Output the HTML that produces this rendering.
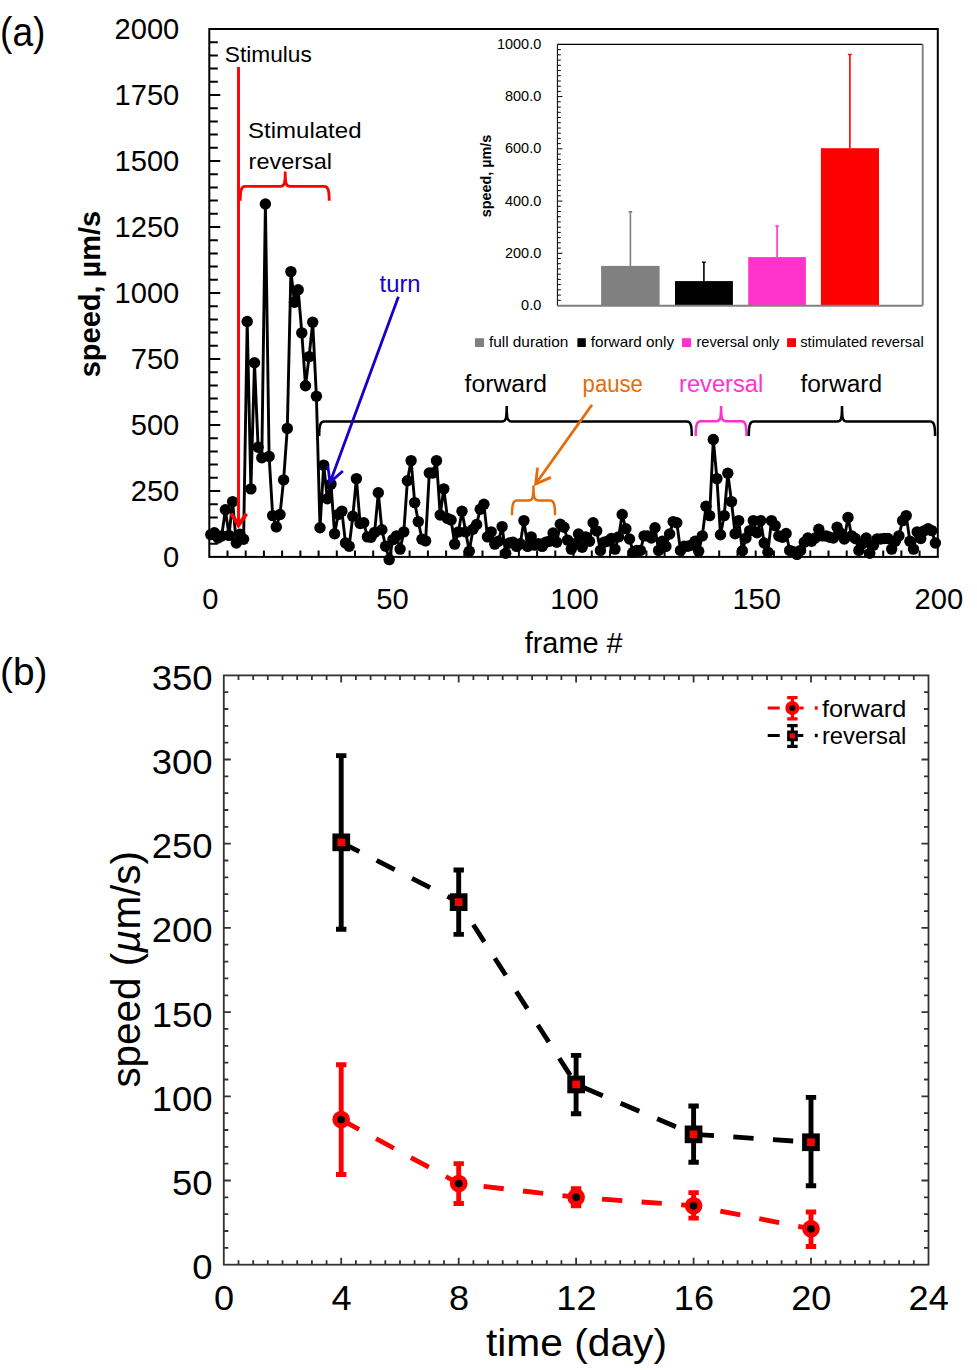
<!DOCTYPE html>
<html><head><meta charset="utf-8"><style>
html,body{margin:0;padding:0;background:#fff;width:977px;height:1370px;overflow:hidden;}
svg text{font-family:"Liberation Sans",sans-serif;}
</style></head><body>
<svg width="977" height="1370" viewBox="0 0 977 1370" style="position:absolute;left:0;top:0">
<rect width="977" height="1370" fill="#fff"/>
<g fill="none" stroke="#000" stroke-width="2">
<rect x="209.3" y="29" width="728.5" height="527.9"/>
<path d="M209.3 543.8h8.5M209.3 530.6h8.5M209.3 517.4h8.5M209.3 504.2h8.5M209.3 491h11M209.3 477.8h8.5M209.3 464.6h8.5M209.3 451.4h8.5M209.3 438.2h8.5M209.3 425h11M209.3 411.8h8.5M209.3 398.6h8.5M209.3 385.4h8.5M209.3 372.2h8.5M209.3 359h11M209.3 345.8h8.5M209.3 332.6h8.5M209.3 319.4h8.5M209.3 306.2h8.5M209.3 293h11M209.3 279.8h8.5M209.3 266.6h8.5M209.3 253.4h8.5M209.3 240.2h8.5M209.3 227h11M209.3 213.8h8.5M209.3 200.6h8.5M209.3 187.4h8.5M209.3 174.2h8.5M209.3 161h11M209.3 147.8h8.5M209.3 134.6h8.5M209.3 121.4h8.5M209.3 108.2h8.5M209.3 95h11M209.3 81.8h8.5M209.3 68.6h8.5M209.3 55.4h8.5M209.3 42.2h8.5M227.5 556.9v-6.5M245.7 556.9v-6.5M263.9 556.9v-6.5M282.1 556.9v-6.5M300.4 556.9v-6.5M318.6 556.9v-6.5M336.8 556.9v-6.5M355 556.9v-6.5M373.2 556.9v-6.5M391.4 556.9v-6.5M409.6 556.9v-6.5M427.9 556.9v-6.5M446.1 556.9v-6.5M464.3 556.9v-6.5M482.5 556.9v-6.5M500.7 556.9v-6.5M518.9 556.9v-6.5M537.1 556.9v-6.5M555.3 556.9v-6.5M573.5 556.9v-6.5M591.8 556.9v-6.5M610 556.9v-6.5M628.2 556.9v-6.5M646.4 556.9v-6.5M664.6 556.9v-6.5M682.8 556.9v-6.5M701 556.9v-6.5M719.2 556.9v-6.5M737.5 556.9v-6.5M755.7 556.9v-6.5M773.9 556.9v-6.5M792.1 556.9v-6.5M810.3 556.9v-6.5M828.5 556.9v-6.5M846.7 556.9v-6.5M865 556.9v-6.5M883.2 556.9v-6.5M901.4 556.9v-6.5M919.6 556.9v-6.5"/>
</g>
<text x="179.3" y="566.6" font-size="29.5" fill="#000" text-anchor="end" textLength="16.2" lengthAdjust="spacingAndGlyphs">0</text>
<text x="179.3" y="500.6" font-size="29.5" fill="#000" text-anchor="end" textLength="48.6" lengthAdjust="spacingAndGlyphs">250</text>
<text x="179.3" y="434.6" font-size="29.5" fill="#000" text-anchor="end" textLength="48.6" lengthAdjust="spacingAndGlyphs">500</text>
<text x="179.3" y="368.6" font-size="29.5" fill="#000" text-anchor="end" textLength="48.6" lengthAdjust="spacingAndGlyphs">750</text>
<text x="179.3" y="302.6" font-size="29.5" fill="#000" text-anchor="end" textLength="64.8" lengthAdjust="spacingAndGlyphs">1000</text>
<text x="179.3" y="236.6" font-size="29.5" fill="#000" text-anchor="end" textLength="64.8" lengthAdjust="spacingAndGlyphs">1250</text>
<text x="179.3" y="170.6" font-size="29.5" fill="#000" text-anchor="end" textLength="64.8" lengthAdjust="spacingAndGlyphs">1500</text>
<text x="179.3" y="104.6" font-size="29.5" fill="#000" text-anchor="end" textLength="64.8" lengthAdjust="spacingAndGlyphs">1750</text>
<text x="179.3" y="38.6" font-size="29.5" fill="#000" text-anchor="end" textLength="64.8" lengthAdjust="spacingAndGlyphs">2000</text>
<text x="210.3" y="609" font-size="29.5" fill="#000" text-anchor="middle" textLength="16.2" lengthAdjust="spacingAndGlyphs">0</text>
<text x="392.4" y="609" font-size="29.5" fill="#000" text-anchor="middle" textLength="32.4" lengthAdjust="spacingAndGlyphs">50</text>
<text x="574.5" y="609" font-size="29.5" fill="#000" text-anchor="middle" textLength="48.6" lengthAdjust="spacingAndGlyphs">100</text>
<text x="756.7" y="609" font-size="29.5" fill="#000" text-anchor="middle" textLength="48.6" lengthAdjust="spacingAndGlyphs">150</text>
<text x="938.8" y="609" font-size="29.5" fill="#000" text-anchor="middle" textLength="48.6" lengthAdjust="spacingAndGlyphs">200</text>
<text x="573.7" y="652.9" font-size="29" fill="#000" text-anchor="middle" textLength="98" lengthAdjust="spacingAndGlyphs">frame #</text>
<text x="100.5" y="377.3" font-size="29" fill="#000" font-weight="bold" textLength="166.5" lengthAdjust="spacingAndGlyphs" transform="rotate(-90 100.5 377.3)">speed, µm/s</text>
<text x="0" y="46" font-size="41.5" fill="#000" textLength="45.5" lengthAdjust="spacingAndGlyphs">(a)</text>
<polyline points="210.8,534.6 214.4,532.7 218.1,538 221.7,535.9 225.4,509.7 229,535.4 232.6,501.6 236.3,543 239.9,534.3 243.6,539.3 247.2,321.5 250.9,488.9 254.5,362.7 258.1,447.2 261.8,457.7 265.4,204 269.1,456.4 272.7,515.6 276.3,526.9 280,514.5 283.6,479.9 287.3,428.4 290.9,271.6 294.5,302.2 298.2,289.8 301.8,332.9 305.5,385.7 309.1,356.6 312.7,322.3 316.4,396.2 320,527.7 323.7,465.1 327.3,498.7 331,484.1 334.6,533.8 338.2,514.5 341.9,511.3 345.5,543 349.2,546.2 352.8,516.3 356.4,478.6 360.1,523.5 363.7,522.7 367.4,536.9 371,537.2 374.6,532.4 378.3,492.8 381.9,529.8 385.6,546.2 389.2,559.6 392.9,539.6 396.5,535.9 400.1,549.1 403.8,531.9 407.4,480.7 411.1,460.6 414.7,502.6 418.3,521.6 422,539.3 425.6,540.9 429.3,473 432.9,473 436.5,460.6 440.2,515 443.8,488.9 447.5,518.5 451.1,520 454.7,544.1 458.4,531.9 462,511.3 465.7,531.9 469.3,551.2 473,529.3 476.6,524.5 480.2,509.2 483.9,504.2 487.5,536.9 491.2,531.9 494.8,544.1 498.4,541.2 502.1,526.6 505.7,553.3 509.4,543 513,542.2 516.6,546.4 520.3,543.8 523.9,520.6 527.6,546.4 531.2,536.9 534.8,545.1 538.5,543.8 542.1,546.4 545.8,542.2 549.4,541.2 553.1,533 556.7,542.2 560.3,524.3 564,527.2 567.6,540.1 571.3,549.1 574.9,543.8 578.5,534 582.2,547.2 585.8,536.9 589.5,541.2 593.1,522.7 596.7,530.9 600.4,550.4 604,542.2 607.7,541.2 611.3,538.5 615,549.1 618.6,536.9 622.2,514.5 625.9,528.8 629.5,539 633.2,552.2 636.8,550.4 640.4,550.4 644.1,535.9 647.7,535.9 651.4,538 655,527.7 658.6,550.4 662.3,541.2 665.9,546.4 669.6,534 673.2,521.6 676.8,522.7 680.5,550.4 684.1,546.2 687.8,546.2 691.4,545.1 695.1,541.2 698.7,551.2 702.3,535.9 706,506.3 709.6,515.6 713.3,439.5 716.9,478.6 720.5,534.8 724.2,515.6 727.8,473.3 731.5,501.6 735.1,533.8 738.7,520.6 742.4,550.7 746,538 749.7,530.6 753.3,520.6 757,532.7 760.6,520.6 764.2,543 767.9,552.2 771.5,520.6 775.2,525.6 778.8,535.9 782.4,537.2 786.1,533.5 789.7,550.4 793.4,551.7 797,554.4 800.6,550.4 804.3,542.2 807.9,538 811.6,541.2 815.2,538 818.8,529.3 822.5,535.9 826.1,535.9 829.8,537.2 833.4,538 837.1,527.2 840.7,533.2 844.3,539 848,517.4 851.6,535.9 855.3,538.5 858.9,550.4 862.5,543.8 866.2,538 869.8,553.3 873.5,545.1 877.1,539 880.7,539 884.4,538.5 888,538.5 891.7,549.1 895.3,541.2 898.9,535.9 902.6,520.6 906.2,515.6 909.9,541.2 913.5,549.1 917.2,531.9 920.8,538.5 924.4,530.6 928.1,528.8 931.7,530.6 935.4,543" fill="none" stroke="#000" stroke-width="2.9" stroke-linejoin="round"/>
<g fill="#000">
<circle cx="210.8" cy="534.6" r="5.7"/>
<circle cx="214.4" cy="532.7" r="5.7"/>
<circle cx="218.1" cy="538" r="5.7"/>
<circle cx="221.7" cy="535.9" r="5.7"/>
<circle cx="225.4" cy="509.7" r="5.7"/>
<circle cx="229" cy="535.4" r="5.7"/>
<circle cx="232.6" cy="501.6" r="5.7"/>
<circle cx="236.3" cy="543" r="5.7"/>
<circle cx="239.9" cy="534.3" r="5.7"/>
<circle cx="243.6" cy="539.3" r="5.7"/>
<circle cx="247.2" cy="321.5" r="5.7"/>
<circle cx="250.9" cy="488.9" r="5.7"/>
<circle cx="254.5" cy="362.7" r="5.7"/>
<circle cx="258.1" cy="447.2" r="5.7"/>
<circle cx="261.8" cy="457.7" r="5.7"/>
<circle cx="265.4" cy="204" r="5.7"/>
<circle cx="269.1" cy="456.4" r="5.7"/>
<circle cx="272.7" cy="515.6" r="5.7"/>
<circle cx="276.3" cy="526.9" r="5.7"/>
<circle cx="280" cy="514.5" r="5.7"/>
<circle cx="283.6" cy="479.9" r="5.7"/>
<circle cx="287.3" cy="428.4" r="5.7"/>
<circle cx="290.9" cy="271.6" r="5.7"/>
<circle cx="294.5" cy="302.2" r="5.7"/>
<circle cx="298.2" cy="289.8" r="5.7"/>
<circle cx="301.8" cy="332.9" r="5.7"/>
<circle cx="305.5" cy="385.7" r="5.7"/>
<circle cx="309.1" cy="356.6" r="5.7"/>
<circle cx="312.7" cy="322.3" r="5.7"/>
<circle cx="316.4" cy="396.2" r="5.7"/>
<circle cx="320" cy="527.7" r="5.7"/>
<circle cx="323.7" cy="465.1" r="5.7"/>
<circle cx="327.3" cy="498.7" r="5.7"/>
<circle cx="331" cy="484.1" r="5.7"/>
<circle cx="334.6" cy="533.8" r="5.7"/>
<circle cx="338.2" cy="514.5" r="5.7"/>
<circle cx="341.9" cy="511.3" r="5.7"/>
<circle cx="345.5" cy="543" r="5.7"/>
<circle cx="349.2" cy="546.2" r="5.7"/>
<circle cx="352.8" cy="516.3" r="5.7"/>
<circle cx="356.4" cy="478.6" r="5.7"/>
<circle cx="360.1" cy="523.5" r="5.7"/>
<circle cx="363.7" cy="522.7" r="5.7"/>
<circle cx="367.4" cy="536.9" r="5.7"/>
<circle cx="371" cy="537.2" r="5.7"/>
<circle cx="374.6" cy="532.4" r="5.7"/>
<circle cx="378.3" cy="492.8" r="5.7"/>
<circle cx="381.9" cy="529.8" r="5.7"/>
<circle cx="385.6" cy="546.2" r="5.7"/>
<circle cx="389.2" cy="559.6" r="5.7"/>
<circle cx="392.9" cy="539.6" r="5.7"/>
<circle cx="396.5" cy="535.9" r="5.7"/>
<circle cx="400.1" cy="549.1" r="5.7"/>
<circle cx="403.8" cy="531.9" r="5.7"/>
<circle cx="407.4" cy="480.7" r="5.7"/>
<circle cx="411.1" cy="460.6" r="5.7"/>
<circle cx="414.7" cy="502.6" r="5.7"/>
<circle cx="418.3" cy="521.6" r="5.7"/>
<circle cx="422" cy="539.3" r="5.7"/>
<circle cx="425.6" cy="540.9" r="5.7"/>
<circle cx="429.3" cy="473" r="5.7"/>
<circle cx="432.9" cy="473" r="5.7"/>
<circle cx="436.5" cy="460.6" r="5.7"/>
<circle cx="440.2" cy="515" r="5.7"/>
<circle cx="443.8" cy="488.9" r="5.7"/>
<circle cx="447.5" cy="518.5" r="5.7"/>
<circle cx="451.1" cy="520" r="5.7"/>
<circle cx="454.7" cy="544.1" r="5.7"/>
<circle cx="458.4" cy="531.9" r="5.7"/>
<circle cx="462" cy="511.3" r="5.7"/>
<circle cx="465.7" cy="531.9" r="5.7"/>
<circle cx="469.3" cy="551.2" r="5.7"/>
<circle cx="473" cy="529.3" r="5.7"/>
<circle cx="476.6" cy="524.5" r="5.7"/>
<circle cx="480.2" cy="509.2" r="5.7"/>
<circle cx="483.9" cy="504.2" r="5.7"/>
<circle cx="487.5" cy="536.9" r="5.7"/>
<circle cx="491.2" cy="531.9" r="5.7"/>
<circle cx="494.8" cy="544.1" r="5.7"/>
<circle cx="498.4" cy="541.2" r="5.7"/>
<circle cx="502.1" cy="526.6" r="5.7"/>
<circle cx="505.7" cy="553.3" r="5.7"/>
<circle cx="509.4" cy="543" r="5.7"/>
<circle cx="513" cy="542.2" r="5.7"/>
<circle cx="516.6" cy="546.4" r="5.7"/>
<circle cx="520.3" cy="543.8" r="5.7"/>
<circle cx="523.9" cy="520.6" r="5.7"/>
<circle cx="527.6" cy="546.4" r="5.7"/>
<circle cx="531.2" cy="536.9" r="5.7"/>
<circle cx="534.8" cy="545.1" r="5.7"/>
<circle cx="538.5" cy="543.8" r="5.7"/>
<circle cx="542.1" cy="546.4" r="5.7"/>
<circle cx="545.8" cy="542.2" r="5.7"/>
<circle cx="549.4" cy="541.2" r="5.7"/>
<circle cx="553.1" cy="533" r="5.7"/>
<circle cx="556.7" cy="542.2" r="5.7"/>
<circle cx="560.3" cy="524.3" r="5.7"/>
<circle cx="564" cy="527.2" r="5.7"/>
<circle cx="567.6" cy="540.1" r="5.7"/>
<circle cx="571.3" cy="549.1" r="5.7"/>
<circle cx="574.9" cy="543.8" r="5.7"/>
<circle cx="578.5" cy="534" r="5.7"/>
<circle cx="582.2" cy="547.2" r="5.7"/>
<circle cx="585.8" cy="536.9" r="5.7"/>
<circle cx="589.5" cy="541.2" r="5.7"/>
<circle cx="593.1" cy="522.7" r="5.7"/>
<circle cx="596.7" cy="530.9" r="5.7"/>
<circle cx="600.4" cy="550.4" r="5.7"/>
<circle cx="604" cy="542.2" r="5.7"/>
<circle cx="607.7" cy="541.2" r="5.7"/>
<circle cx="611.3" cy="538.5" r="5.7"/>
<circle cx="615" cy="549.1" r="5.7"/>
<circle cx="618.6" cy="536.9" r="5.7"/>
<circle cx="622.2" cy="514.5" r="5.7"/>
<circle cx="625.9" cy="528.8" r="5.7"/>
<circle cx="629.5" cy="539" r="5.7"/>
<circle cx="633.2" cy="552.2" r="5.7"/>
<circle cx="636.8" cy="550.4" r="5.7"/>
<circle cx="640.4" cy="550.4" r="5.7"/>
<circle cx="644.1" cy="535.9" r="5.7"/>
<circle cx="647.7" cy="535.9" r="5.7"/>
<circle cx="651.4" cy="538" r="5.7"/>
<circle cx="655" cy="527.7" r="5.7"/>
<circle cx="658.6" cy="550.4" r="5.7"/>
<circle cx="662.3" cy="541.2" r="5.7"/>
<circle cx="665.9" cy="546.4" r="5.7"/>
<circle cx="669.6" cy="534" r="5.7"/>
<circle cx="673.2" cy="521.6" r="5.7"/>
<circle cx="676.8" cy="522.7" r="5.7"/>
<circle cx="680.5" cy="550.4" r="5.7"/>
<circle cx="684.1" cy="546.2" r="5.7"/>
<circle cx="687.8" cy="546.2" r="5.7"/>
<circle cx="691.4" cy="545.1" r="5.7"/>
<circle cx="695.1" cy="541.2" r="5.7"/>
<circle cx="698.7" cy="551.2" r="5.7"/>
<circle cx="702.3" cy="535.9" r="5.7"/>
<circle cx="706" cy="506.3" r="5.7"/>
<circle cx="709.6" cy="515.6" r="5.7"/>
<circle cx="713.3" cy="439.5" r="5.7"/>
<circle cx="716.9" cy="478.6" r="5.7"/>
<circle cx="720.5" cy="534.8" r="5.7"/>
<circle cx="724.2" cy="515.6" r="5.7"/>
<circle cx="727.8" cy="473.3" r="5.7"/>
<circle cx="731.5" cy="501.6" r="5.7"/>
<circle cx="735.1" cy="533.8" r="5.7"/>
<circle cx="738.7" cy="520.6" r="5.7"/>
<circle cx="742.4" cy="550.7" r="5.7"/>
<circle cx="746" cy="538" r="5.7"/>
<circle cx="749.7" cy="530.6" r="5.7"/>
<circle cx="753.3" cy="520.6" r="5.7"/>
<circle cx="757" cy="532.7" r="5.7"/>
<circle cx="760.6" cy="520.6" r="5.7"/>
<circle cx="764.2" cy="543" r="5.7"/>
<circle cx="767.9" cy="552.2" r="5.7"/>
<circle cx="771.5" cy="520.6" r="5.7"/>
<circle cx="775.2" cy="525.6" r="5.7"/>
<circle cx="778.8" cy="535.9" r="5.7"/>
<circle cx="782.4" cy="537.2" r="5.7"/>
<circle cx="786.1" cy="533.5" r="5.7"/>
<circle cx="789.7" cy="550.4" r="5.7"/>
<circle cx="793.4" cy="551.7" r="5.7"/>
<circle cx="797" cy="554.4" r="5.7"/>
<circle cx="800.6" cy="550.4" r="5.7"/>
<circle cx="804.3" cy="542.2" r="5.7"/>
<circle cx="807.9" cy="538" r="5.7"/>
<circle cx="811.6" cy="541.2" r="5.7"/>
<circle cx="815.2" cy="538" r="5.7"/>
<circle cx="818.8" cy="529.3" r="5.7"/>
<circle cx="822.5" cy="535.9" r="5.7"/>
<circle cx="826.1" cy="535.9" r="5.7"/>
<circle cx="829.8" cy="537.2" r="5.7"/>
<circle cx="833.4" cy="538" r="5.7"/>
<circle cx="837.1" cy="527.2" r="5.7"/>
<circle cx="840.7" cy="533.2" r="5.7"/>
<circle cx="844.3" cy="539" r="5.7"/>
<circle cx="848" cy="517.4" r="5.7"/>
<circle cx="851.6" cy="535.9" r="5.7"/>
<circle cx="855.3" cy="538.5" r="5.7"/>
<circle cx="858.9" cy="550.4" r="5.7"/>
<circle cx="862.5" cy="543.8" r="5.7"/>
<circle cx="866.2" cy="538" r="5.7"/>
<circle cx="869.8" cy="553.3" r="5.7"/>
<circle cx="873.5" cy="545.1" r="5.7"/>
<circle cx="877.1" cy="539" r="5.7"/>
<circle cx="880.7" cy="539" r="5.7"/>
<circle cx="884.4" cy="538.5" r="5.7"/>
<circle cx="888" cy="538.5" r="5.7"/>
<circle cx="891.7" cy="549.1" r="5.7"/>
<circle cx="895.3" cy="541.2" r="5.7"/>
<circle cx="898.9" cy="535.9" r="5.7"/>
<circle cx="902.6" cy="520.6" r="5.7"/>
<circle cx="906.2" cy="515.6" r="5.7"/>
<circle cx="909.9" cy="541.2" r="5.7"/>
<circle cx="913.5" cy="549.1" r="5.7"/>
<circle cx="917.2" cy="531.9" r="5.7"/>
<circle cx="920.8" cy="538.5" r="5.7"/>
<circle cx="924.4" cy="530.6" r="5.7"/>
<circle cx="928.1" cy="528.8" r="5.7"/>
<circle cx="931.7" cy="530.6" r="5.7"/>
<circle cx="935.4" cy="543" r="5.7"/>
</g>
<text x="224.8" y="61.6" font-size="22.5" fill="#000" textLength="87" lengthAdjust="spacingAndGlyphs">Stimulus</text>
<path d="M238.5 67V524" stroke="#f00" stroke-width="2.9" fill="none"/>
<path d="M231.3 513.6L238.5 525.3L246.5 513.6" stroke="#f00" stroke-width="3.8" fill="none" stroke-linejoin="miter" stroke-miterlimit="10"/>
<text x="248" y="137.9" font-size="22.5" fill="#000" textLength="113.5" lengthAdjust="spacingAndGlyphs">Stimulated</text>
<text x="248.6" y="168.9" font-size="22.5" fill="#000" textLength="83.5" lengthAdjust="spacingAndGlyphs">reversal</text>
<path d="M240.2 200.8 C240.2 190.4 241.2 186.4 245.2 186.4 L280.2 186.4 C284.2 186.4 285.2 184.4 285.2 171.5 C285.2 184.4 286.2 186.4 290.2 186.4 L324.2 186.4 C328.2 186.4 329.2 190.4 329.2 200.8" stroke="#f00" stroke-width="2.8" fill="none"/>
<path d="M319.2 436 C319.2 425.5 320.2 421.5 324.2 421.5 L501.7 421.5 C505.7 421.5 506.7 419.5 506.7 406 C506.7 419.5 507.7 421.5 511.7 421.5 L686.8 421.5 C690.8 421.5 691.8 425.5 691.8 436" stroke="#000" stroke-width="2.5" fill="none"/>
<path d="M695.7 436 C695.7 425.2 696.7 421.2 700.7 421.2 L716.1 421.2 C720.1 421.2 721.1 419.2 721.1 406 C721.1 419.2 722.1 421.2 726.1 421.2 L741.5 421.2 C745.5 421.2 746.5 425.2 746.5 436" stroke="#ff33cc" stroke-width="2.5" fill="none"/>
<path d="M748.8 436 C748.8 425.5 749.8 421.5 753.8 421.5 L837 421.5 C841 421.5 842 419.5 842 406 C842 419.5 843 421.5 847 421.5 L930.1 421.5 C934.1 421.5 935.1 425.5 935.1 436" stroke="#000" stroke-width="2.5" fill="none"/>
<path d="M512 515.3 C512 504.4 513 500.4 517 500.4 L528.5 500.4 C532.5 500.4 533.5 498.4 533.5 485.6 C533.5 498.4 534.5 500.4 538.5 500.4 L550 500.4 C554 500.4 555 504.4 555 515.3" stroke="#e46c0a" stroke-width="2.5" fill="none"/>
<text x="379.6" y="292.3" font-size="23" fill="#1800c8" textLength="41" lengthAdjust="spacingAndGlyphs">turn</text>
<text x="464.6" y="392" font-size="23" fill="#000" textLength="82.3" lengthAdjust="spacingAndGlyphs">forward</text>
<text x="582.6" y="392" font-size="23" fill="#e46c0a" textLength="60.3" lengthAdjust="spacingAndGlyphs">pause</text>
<text x="679" y="391.7" font-size="23" fill="#ff33cc" textLength="84.2" lengthAdjust="spacingAndGlyphs">reversal</text>
<text x="800.4" y="391.7" font-size="23" fill="#000" textLength="81.7" lengthAdjust="spacingAndGlyphs">forward</text>
<path d="M398.4 296.8L330 482.4M327.8 465.5L330 482.4L342.9 471" stroke="#1800c8" stroke-width="2.8" fill="none"/>
<path d="M592 404.8L535.6 484M537.6 467.7L535.6 484L550.9 477.4" stroke="#e46c0a" stroke-width="2.8" fill="none"/>
<rect x="557.4" y="44.4" width="365.3" height="261.2" fill="#fff"/>
<path d="M557.4 44.4H922.7" stroke="#000" stroke-width="1.2"/>
<path d="M922.7 44.4V305.6" stroke="#808080" stroke-width="1.9"/>
<rect x="601.1" y="265.9" width="58.5" height="39.7" fill="#808080"/>
<path d="M630.4 265.9V211.5M628.6 211.9h3.6" stroke="#808080" stroke-width="1.6"/>
<rect x="675" y="281.1" width="57.9" height="24.5" fill="#000000"/>
<path d="M703.9 281.1V261.9M702.1 262.3h3.6" stroke="#000000" stroke-width="1.6"/>
<rect x="748.2" y="257.1" width="57.7" height="48.5" fill="#ff33cc"/>
<path d="M777.1 257.1V225.6M775.3 226h3.6" stroke="#ff33cc" stroke-width="1.6"/>
<rect x="820.9" y="148.2" width="58.1" height="157.4" fill="#ff0000"/>
<path d="M849.9 148.2V54.1M848.1 54.5h3.6" stroke="#ff0000" stroke-width="1.6"/>
<path d="M557.4 305.8H922.7" stroke="#808080" stroke-width="1.9"/>
<path d="M557.4 44.4V305.6M557.4 300.3h3.4M557.4 295.1h3.4M557.4 289.8h3.4M557.4 284.6h3.4M557.4 279.4h3.4M557.4 274.2h3.4M557.4 268.9h3.4M557.4 263.7h3.4M557.4 258.5h3.4M557.4 253.3h5M557.4 248.1h3.4M557.4 242.8h3.4M557.4 237.6h3.4M557.4 232.4h3.4M557.4 227.2h3.4M557.4 221.9h3.4M557.4 216.7h3.4M557.4 211.5h3.4M557.4 206.3h3.4M557.4 201.1h5M557.4 195.8h3.4M557.4 190.6h3.4M557.4 185.4h3.4M557.4 180.2h3.4M557.4 174.9h3.4M557.4 169.7h3.4M557.4 164.5h3.4M557.4 159.3h3.4M557.4 154.1h3.4M557.4 148.8h5M557.4 143.6h3.4M557.4 138.4h3.4M557.4 133.2h3.4M557.4 128h3.4M557.4 122.7h3.4M557.4 117.5h3.4M557.4 112.3h3.4M557.4 107.1h3.4M557.4 101.8h3.4M557.4 96.6h5M557.4 91.4h3.4M557.4 86.2h3.4M557.4 81h3.4M557.4 75.7h3.4M557.4 70.5h3.4M557.4 65.3h3.4M557.4 60.1h3.4M557.4 54.8h3.4M557.4 49.6h3.4" stroke="#000" stroke-width="1" fill="none"/>
<text x="541.2" y="310" font-size="14.5" fill="#000" text-anchor="end" textLength="20.1" lengthAdjust="spacingAndGlyphs">0.0</text>
<text x="541.2" y="257.8" font-size="14.5" fill="#000" text-anchor="end" textLength="36.2" lengthAdjust="spacingAndGlyphs">200.0</text>
<text x="541.2" y="205.6" font-size="14.5" fill="#000" text-anchor="end" textLength="36.2" lengthAdjust="spacingAndGlyphs">400.0</text>
<text x="541.2" y="153.3" font-size="14.5" fill="#000" text-anchor="end" textLength="36.2" lengthAdjust="spacingAndGlyphs">600.0</text>
<text x="541.2" y="101.1" font-size="14.5" fill="#000" text-anchor="end" textLength="36.2" lengthAdjust="spacingAndGlyphs">800.0</text>
<text x="541.2" y="48.9" font-size="14.5" fill="#000" text-anchor="end" textLength="44.2" lengthAdjust="spacingAndGlyphs">1000.0</text>
<text x="490.8" y="217.2" font-size="14.5" fill="#000" font-weight="bold" textLength="82.5" lengthAdjust="spacingAndGlyphs" transform="rotate(-90 490.8 217.2)">speed, µm/s</text>
<rect x="475" y="338.2" width="9" height="8.8" fill="#808080"/>
<text x="488.9" y="346.7" font-size="14.5" fill="#000" textLength="79.5" lengthAdjust="spacingAndGlyphs">full duration</text>
<rect x="577.4" y="338.2" width="8.4" height="8.8" fill="#000"/>
<text x="590.7" y="346.7" font-size="14.5" fill="#000" textLength="83.5" lengthAdjust="spacingAndGlyphs">forward only</text>
<rect x="682" y="338.2" width="9.1" height="8.8" fill="#ff33cc"/>
<text x="696.4" y="346.7" font-size="14.5" fill="#000" textLength="83" lengthAdjust="spacingAndGlyphs">reversal only</text>
<rect x="787.1" y="338.2" width="8.9" height="8.8" fill="#ff0000"/>
<text x="800.2" y="346.7" font-size="14.5" fill="#000" textLength="123.5" lengthAdjust="spacingAndGlyphs">stimulated reversal</text>
<g stroke="#333" fill="none" stroke-width="1.8">
<rect x="223.8" y="675.4" width="704.7" height="589.3"/>
<path d="M238.5 1264.7v-4.5M238.5 675.4v4.5M253.2 1264.7v-4.5M253.2 675.4v4.5M267.8 1264.7v-4.5M267.8 675.4v4.5M282.5 1264.7v-4.5M282.5 675.4v4.5M297.2 1264.7v-4.5M297.2 675.4v4.5M311.9 1264.7v-4.5M311.9 675.4v4.5M326.6 1264.7v-4.5M326.6 675.4v4.5M341.2 1264.7v-7M341.2 675.4v7M355.9 1264.7v-4.5M355.9 675.4v4.5M370.6 1264.7v-4.5M370.6 675.4v4.5M385.3 1264.7v-4.5M385.3 675.4v4.5M400 1264.7v-4.5M400 675.4v4.5M414.6 1264.7v-4.5M414.6 675.4v4.5M429.3 1264.7v-4.5M429.3 675.4v4.5M444 1264.7v-4.5M444 675.4v4.5M458.7 1264.7v-7M458.7 675.4v7M473.4 1264.7v-4.5M473.4 675.4v4.5M488 1264.7v-4.5M488 675.4v4.5M502.7 1264.7v-4.5M502.7 675.4v4.5M517.4 1264.7v-4.5M517.4 675.4v4.5M532.1 1264.7v-4.5M532.1 675.4v4.5M546.8 1264.7v-4.5M546.8 675.4v4.5M561.4 1264.7v-4.5M561.4 675.4v4.5M576.1 1264.7v-7M576.1 675.4v7M590.8 1264.7v-4.5M590.8 675.4v4.5M605.5 1264.7v-4.5M605.5 675.4v4.5M620.2 1264.7v-4.5M620.2 675.4v4.5M634.8 1264.7v-4.5M634.8 675.4v4.5M649.5 1264.7v-4.5M649.5 675.4v4.5M664.2 1264.7v-4.5M664.2 675.4v4.5M678.9 1264.7v-4.5M678.9 675.4v4.5M693.6 1264.7v-7M693.6 675.4v7M708.2 1264.7v-4.5M708.2 675.4v4.5M722.9 1264.7v-4.5M722.9 675.4v4.5M737.6 1264.7v-4.5M737.6 675.4v4.5M752.3 1264.7v-4.5M752.3 675.4v4.5M767 1264.7v-4.5M767 675.4v4.5M781.6 1264.7v-4.5M781.6 675.4v4.5M796.3 1264.7v-4.5M796.3 675.4v4.5M811 1264.7v-7M811 675.4v7M825.7 1264.7v-4.5M825.7 675.4v4.5M840.4 1264.7v-4.5M840.4 675.4v4.5M855 1264.7v-4.5M855 675.4v4.5M869.7 1264.7v-4.5M869.7 675.4v4.5M884.4 1264.7v-4.5M884.4 675.4v4.5M899.1 1264.7v-4.5M899.1 675.4v4.5M913.8 1264.7v-4.5M913.8 675.4v4.5M223.8 1247.9h4.5M928.5 1247.9h-4.5M223.8 1231h4.5M928.5 1231h-4.5M223.8 1214.2h4.5M928.5 1214.2h-4.5M223.8 1197.3h4.5M928.5 1197.3h-4.5M223.8 1180.5h7M928.5 1180.5h-7M223.8 1163.7h4.5M928.5 1163.7h-4.5M223.8 1146.8h4.5M928.5 1146.8h-4.5M223.8 1130h4.5M928.5 1130h-4.5M223.8 1113.1h4.5M928.5 1113.1h-4.5M223.8 1096.3h7M928.5 1096.3h-7M223.8 1079.5h4.5M928.5 1079.5h-4.5M223.8 1062.6h4.5M928.5 1062.6h-4.5M223.8 1045.8h4.5M928.5 1045.8h-4.5M223.8 1028.9h4.5M928.5 1028.9h-4.5M223.8 1012.1h7M928.5 1012.1h-7M223.8 995.3h4.5M928.5 995.3h-4.5M223.8 978.4h4.5M928.5 978.4h-4.5M223.8 961.6h4.5M928.5 961.6h-4.5M223.8 944.7h4.5M928.5 944.7h-4.5M223.8 927.9h7M928.5 927.9h-7M223.8 911.1h4.5M928.5 911.1h-4.5M223.8 894.2h4.5M928.5 894.2h-4.5M223.8 877.4h4.5M928.5 877.4h-4.5M223.8 860.5h4.5M928.5 860.5h-4.5M223.8 843.7h7M928.5 843.7h-7M223.8 826.9h4.5M928.5 826.9h-4.5M223.8 810h4.5M928.5 810h-4.5M223.8 793.2h4.5M928.5 793.2h-4.5M223.8 776.3h4.5M928.5 776.3h-4.5M223.8 759.5h7M928.5 759.5h-7M223.8 742.7h4.5M928.5 742.7h-4.5M223.8 725.8h4.5M928.5 725.8h-4.5M223.8 709h4.5M928.5 709h-4.5M223.8 692.1h4.5M928.5 692.1h-4.5"/>
</g>
<text x="212.6" y="1279.1" font-size="35.8" fill="#000" text-anchor="end" textLength="20.3" lengthAdjust="spacingAndGlyphs">0</text>
<text x="212.6" y="1194.9" font-size="35.8" fill="#000" text-anchor="end" textLength="40.6" lengthAdjust="spacingAndGlyphs">50</text>
<text x="212.6" y="1110.7" font-size="35.8" fill="#000" text-anchor="end" textLength="60.9" lengthAdjust="spacingAndGlyphs">100</text>
<text x="212.6" y="1026.5" font-size="35.8" fill="#000" text-anchor="end" textLength="60.9" lengthAdjust="spacingAndGlyphs">150</text>
<text x="212.6" y="942.3" font-size="35.8" fill="#000" text-anchor="end" textLength="60.9" lengthAdjust="spacingAndGlyphs">200</text>
<text x="212.6" y="858.1" font-size="35.8" fill="#000" text-anchor="end" textLength="60.9" lengthAdjust="spacingAndGlyphs">250</text>
<text x="212.6" y="773.9" font-size="35.8" fill="#000" text-anchor="end" textLength="60.9" lengthAdjust="spacingAndGlyphs">300</text>
<text x="212.6" y="689.7" font-size="35.8" fill="#000" text-anchor="end" textLength="60.9" lengthAdjust="spacingAndGlyphs">350</text>
<text x="224.1" y="1310.4" font-size="35.3" fill="#000" text-anchor="middle" textLength="20.1" lengthAdjust="spacingAndGlyphs">0</text>
<text x="341.5" y="1310.4" font-size="35.3" fill="#000" text-anchor="middle" textLength="20.1" lengthAdjust="spacingAndGlyphs">4</text>
<text x="459" y="1310.4" font-size="35.3" fill="#000" text-anchor="middle" textLength="20.1" lengthAdjust="spacingAndGlyphs">8</text>
<text x="576.4" y="1310.4" font-size="35.3" fill="#000" text-anchor="middle" textLength="40.2" lengthAdjust="spacingAndGlyphs">12</text>
<text x="693.9" y="1310.4" font-size="35.3" fill="#000" text-anchor="middle" textLength="40.2" lengthAdjust="spacingAndGlyphs">16</text>
<text x="811.3" y="1310.4" font-size="35.3" fill="#000" text-anchor="middle" textLength="40.2" lengthAdjust="spacingAndGlyphs">20</text>
<text x="928.7" y="1310.4" font-size="35.3" fill="#000" text-anchor="middle" textLength="40.2" lengthAdjust="spacingAndGlyphs">24</text>
<text x="576.5" y="1355.6" font-size="39" fill="#000" text-anchor="middle" textLength="181" lengthAdjust="spacingAndGlyphs">time (day)</text>
<text x="139.6" y="1087.6" font-size="41" fill="#000" textLength="236.5" lengthAdjust="spacingAndGlyphs" transform="rotate(-90 139.6 1087.6)">speed (<tspan font-style="italic">µ</tspan>m/s)</text>
<text x="0" y="684.5" font-size="39.5" fill="#000" textLength="47.5" lengthAdjust="spacingAndGlyphs">(b)</text>
<polyline points="341.2,842.4 458.7,902.1 576.1,1084.4 693.6,1134.3 811,1142.2" fill="none" stroke="#000" stroke-width="4.8" stroke-dasharray="20.3 19.4"/>
<path d="M341.2 755.6V929.2M336 755.6h10.4M336 929.2h10.4" stroke="#000" stroke-width="4.9"/>
<path d="M458.7 870V934.4M453.5 870h10.4M453.5 934.4h10.4" stroke="#000" stroke-width="4.9"/>
<path d="M576.1 1055.4V1113.7M570.9 1055.4h10.4M570.9 1113.7h10.4" stroke="#000" stroke-width="4.9"/>
<path d="M693.6 1106V1162.2M688.4 1106h10.4M688.4 1162.2h10.4" stroke="#000" stroke-width="4.9"/>
<path d="M811 1097.4V1185.8M805.8 1097.4h10.4M805.8 1185.8h10.4" stroke="#000" stroke-width="4.9"/>
<rect x="334.9" y="836" width="12.7" height="12.7" fill="#f00" stroke="#000" stroke-width="5"/>
<rect x="452.3" y="895.8" width="12.7" height="12.7" fill="#f00" stroke="#000" stroke-width="5"/>
<rect x="569.8" y="1078.1" width="12.7" height="12.7" fill="#f00" stroke="#000" stroke-width="5"/>
<rect x="687.2" y="1128" width="12.7" height="12.7" fill="#f00" stroke="#000" stroke-width="5"/>
<rect x="804.6" y="1135.9" width="12.7" height="12.7" fill="#f00" stroke="#000" stroke-width="5"/>
<polyline points="341.2,1119.6 458.7,1183.5 576.1,1197.2 693.6,1205.8 811,1228.8" fill="none" stroke="#f00" stroke-width="4.8" stroke-dasharray="20.3 19.4"/>
<path d="M341.2 1064.7V1174.5M336 1064.7h10.4M336 1174.5h10.4" stroke="#f00" stroke-width="4.9"/>
<path d="M458.7 1163.6V1203.5M453.5 1163.6h10.4M453.5 1203.5h10.4" stroke="#f00" stroke-width="4.9"/>
<path d="M576.1 1188.8V1205.7M570.9 1188.8h10.4M570.9 1205.7h10.4" stroke="#f00" stroke-width="4.9"/>
<path d="M693.6 1192.6V1218.1M688.4 1192.6h10.4M688.4 1218.1h10.4" stroke="#f00" stroke-width="4.9"/>
<path d="M811 1212V1246.5M805.8 1212h10.4M805.8 1246.5h10.4" stroke="#f00" stroke-width="4.9"/>
<circle cx="341.2" cy="1119.6" r="6.35" fill="#000" stroke="#f00" stroke-width="5"/>
<circle cx="458.7" cy="1183.5" r="6.35" fill="#000" stroke="#f00" stroke-width="5"/>
<circle cx="576.1" cy="1197.2" r="6.35" fill="#000" stroke="#f00" stroke-width="5"/>
<circle cx="693.6" cy="1205.8" r="6.35" fill="#000" stroke="#f00" stroke-width="5"/>
<circle cx="811" cy="1228.8" r="6.35" fill="#000" stroke="#f00" stroke-width="5"/>
<path d="M767.7 708H779.7M799.3 708H803.6" stroke="#f00" stroke-width="3.2"/>
<path d="M792.4 697.7V718.8M787.2 697.7h10.4M787.2 718.8h10.4" stroke="#f00" stroke-width="3.2"/>
<circle cx="792.3" cy="708" r="5" fill="#000" stroke="#f00" stroke-width="4"/>
<path d="M814.8 708h2.9" stroke="#f00" stroke-width="3.4"/>
<path d="M767.7 735.5H779.7M797.8 735.5H803.3" stroke="#000" stroke-width="3.2"/>
<path d="M792.4 725.7V746.4M787.2 725.7h10.4M787.2 746.4h10.4" stroke="#000" stroke-width="3.2"/>
<rect x="788.55" y="731.95" width="7.85" height="7.85" fill="#f00" stroke="#000" stroke-width="2.85"/>
<path d="M814.8 735.5h2.9" stroke="#000" stroke-width="3.4"/>
<text x="821.9" y="717.2" font-size="24" fill="#000" textLength="84.5" lengthAdjust="spacingAndGlyphs">forward</text>
<text x="821.9" y="744.2" font-size="24" fill="#000" textLength="84.5" lengthAdjust="spacingAndGlyphs">reversal</text>
</svg>
</body></html>
